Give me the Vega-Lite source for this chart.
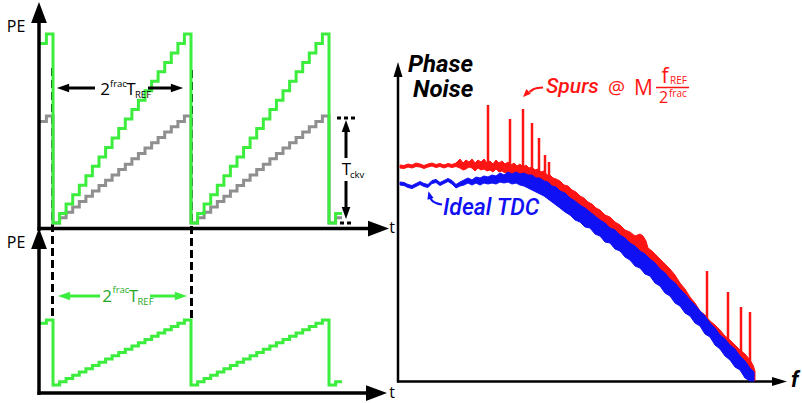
{
  "$schema": "https://vega.github.io/schema/vega-lite/v6.json",
  "width": 802,
  "height": 403,
  "autosize": {"type": "fit", "contains": "padding"},
  "padding": 0,
  "background": "white",
  "config": {"view": {"stroke": null}},
  "datasets": {
    "steps": [
      {"s": "top", "x": 39, "y": 43.5}, {"s": "top", "x": 46.4, "y": 34},
      {"s": "top", "x": 53, "y": 223}, {"s": "top", "x": 59.6, "y": 213.6}, {"s": "top", "x": 66.1, "y": 204.1}, {"s": "top", "x": 72.7, "y": 194.7}, {"s": "top", "x": 79.3, "y": 185.2}, {"s": "top", "x": 85.9, "y": 175.8}, {"s": "top", "x": 92.4, "y": 166.3}, {"s": "top", "x": 99, "y": 156.9}, {"s": "top", "x": 105.6, "y": 147.4}, {"s": "top", "x": 112.1, "y": 138}, {"s": "top", "x": 118.7, "y": 128.5}, {"s": "top", "x": 125.3, "y": 119.1}, {"s": "top", "x": 131.9, "y": 109.6}, {"s": "top", "x": 138.4, "y": 100.2}, {"s": "top", "x": 145, "y": 90.7}, {"s": "top", "x": 151.6, "y": 81.3}, {"s": "top", "x": 158.1, "y": 71.8}, {"s": "top", "x": 164.7, "y": 62.4}, {"s": "top", "x": 171.3, "y": 52.9}, {"s": "top", "x": 177.9, "y": 43.5}, {"s": "top", "x": 184.4, "y": 34},
      {"s": "top", "x": 191, "y": 223}, {"s": "top", "x": 197.6, "y": 213.6}, {"s": "top", "x": 204.1, "y": 204.1}, {"s": "top", "x": 210.7, "y": 194.7}, {"s": "top", "x": 217.3, "y": 185.2}, {"s": "top", "x": 223.9, "y": 175.8}, {"s": "top", "x": 230.4, "y": 166.3}, {"s": "top", "x": 237, "y": 156.9}, {"s": "top", "x": 243.6, "y": 147.4}, {"s": "top", "x": 250.1, "y": 138}, {"s": "top", "x": 256.7, "y": 128.5}, {"s": "top", "x": 263.3, "y": 119.1}, {"s": "top", "x": 269.9, "y": 109.6}, {"s": "top", "x": 276.4, "y": 100.2}, {"s": "top", "x": 283, "y": 90.7}, {"s": "top", "x": 289.6, "y": 81.3}, {"s": "top", "x": 296.1, "y": 71.8}, {"s": "top", "x": 302.7, "y": 62.4}, {"s": "top", "x": 309.3, "y": 52.9}, {"s": "top", "x": 315.9, "y": 43.5}, {"s": "top", "x": 322.4, "y": 34},
      {"s": "top", "x": 329, "y": 223}, {"s": "top", "x": 335.6, "y": 213.6}, {"s": "top", "x": 342, "y": 213.6},
      {"s": "gray", "x": 39, "y": 121.4}, {"s": "gray", "x": 46.4, "y": 116},
      {"s": "gray", "x": 53, "y": 223}, {"s": "gray", "x": 59.6, "y": 217.7}, {"s": "gray", "x": 66.1, "y": 212.3}, {"s": "gray", "x": 72.7, "y": 207}, {"s": "gray", "x": 79.3, "y": 201.6}, {"s": "gray", "x": 85.9, "y": 196.3}, {"s": "gray", "x": 92.4, "y": 190.9}, {"s": "gray", "x": 99, "y": 185.6}, {"s": "gray", "x": 105.6, "y": 180.2}, {"s": "gray", "x": 112.1, "y": 174.9}, {"s": "gray", "x": 118.7, "y": 169.5}, {"s": "gray", "x": 125.3, "y": 164.2}, {"s": "gray", "x": 131.9, "y": 158.8}, {"s": "gray", "x": 138.4, "y": 153.5}, {"s": "gray", "x": 145, "y": 148.1}, {"s": "gray", "x": 151.6, "y": 142.8}, {"s": "gray", "x": 158.1, "y": 137.4}, {"s": "gray", "x": 164.7, "y": 132.1}, {"s": "gray", "x": 171.3, "y": 126.7}, {"s": "gray", "x": 177.9, "y": 121.4}, {"s": "gray", "x": 184.4, "y": 116},
      {"s": "gray", "x": 191, "y": 223}, {"s": "gray", "x": 197.6, "y": 217.7}, {"s": "gray", "x": 204.1, "y": 212.3}, {"s": "gray", "x": 210.7, "y": 207}, {"s": "gray", "x": 217.3, "y": 201.6}, {"s": "gray", "x": 223.9, "y": 196.3}, {"s": "gray", "x": 230.4, "y": 190.9}, {"s": "gray", "x": 237, "y": 185.6}, {"s": "gray", "x": 243.6, "y": 180.2}, {"s": "gray", "x": 250.1, "y": 174.9}, {"s": "gray", "x": 256.7, "y": 169.5}, {"s": "gray", "x": 263.3, "y": 164.2}, {"s": "gray", "x": 269.9, "y": 158.8}, {"s": "gray", "x": 276.4, "y": 153.5}, {"s": "gray", "x": 283, "y": 148.1}, {"s": "gray", "x": 289.6, "y": 142.8}, {"s": "gray", "x": 296.1, "y": 137.4}, {"s": "gray", "x": 302.7, "y": 132.1}, {"s": "gray", "x": 309.3, "y": 126.7}, {"s": "gray", "x": 315.9, "y": 121.4}, {"s": "gray", "x": 322.4, "y": 116},
      {"s": "gray", "x": 329, "y": 223}, {"s": "gray", "x": 335.6, "y": 217.7}, {"s": "gray", "x": 342, "y": 217.7},
      {"s": "bot", "x": 39, "y": 323.3}, {"s": "bot", "x": 46.4, "y": 320},
      {"s": "bot", "x": 53, "y": 385}, {"s": "bot", "x": 59.6, "y": 381.8}, {"s": "bot", "x": 66.1, "y": 378.5}, {"s": "bot", "x": 72.7, "y": 375.3}, {"s": "bot", "x": 79.3, "y": 372}, {"s": "bot", "x": 85.9, "y": 368.8}, {"s": "bot", "x": 92.4, "y": 365.5}, {"s": "bot", "x": 99, "y": 362.3}, {"s": "bot", "x": 105.6, "y": 359}, {"s": "bot", "x": 112.1, "y": 355.8}, {"s": "bot", "x": 118.7, "y": 352.5}, {"s": "bot", "x": 125.3, "y": 349.3}, {"s": "bot", "x": 131.9, "y": 346}, {"s": "bot", "x": 138.4, "y": 342.8}, {"s": "bot", "x": 145, "y": 339.5}, {"s": "bot", "x": 151.6, "y": 336.3}, {"s": "bot", "x": 158.1, "y": 333}, {"s": "bot", "x": 164.7, "y": 329.8}, {"s": "bot", "x": 171.3, "y": 326.5}, {"s": "bot", "x": 177.9, "y": 323.3}, {"s": "bot", "x": 184.4, "y": 320},
      {"s": "bot", "x": 191, "y": 385}, {"s": "bot", "x": 197.6, "y": 381.8}, {"s": "bot", "x": 204.1, "y": 378.5}, {"s": "bot", "x": 210.7, "y": 375.3}, {"s": "bot", "x": 217.3, "y": 372}, {"s": "bot", "x": 223.9, "y": 368.8}, {"s": "bot", "x": 230.4, "y": 365.5}, {"s": "bot", "x": 237, "y": 362.3}, {"s": "bot", "x": 243.6, "y": 359}, {"s": "bot", "x": 250.1, "y": 355.8}, {"s": "bot", "x": 256.7, "y": 352.5}, {"s": "bot", "x": 263.3, "y": 349.3}, {"s": "bot", "x": 269.9, "y": 346}, {"s": "bot", "x": 276.4, "y": 342.8}, {"s": "bot", "x": 283, "y": 339.5}, {"s": "bot", "x": 289.6, "y": 336.3}, {"s": "bot", "x": 296.1, "y": 333}, {"s": "bot", "x": 302.7, "y": 329.8}, {"s": "bot", "x": 309.3, "y": 326.5}, {"s": "bot", "x": 315.9, "y": 323.3}, {"s": "bot", "x": 322.4, "y": 320},
      {"s": "bot", "x": 329, "y": 385}, {"s": "bot", "x": 335.6, "y": 381.8}, {"s": "bot", "x": 342, "y": 381.8}
    ],
    "segs": [
      {"k": "axisL", "x": 39, "y": 231, "x2": 39, "y2": 20},
      {"k": "axisL", "x": 37.5, "y": 228.5, "x2": 370, "y2": 228.5},
      {"k": "axisL", "x": 39, "y": 395, "x2": 39, "y2": 248},
      {"k": "axisL", "x": 37.5, "y": 393, "x2": 368, "y2": 393},
      {"k": "axisR", "x": 398, "y": 382.5, "x2": 398, "y2": 74},
      {"k": "axisR", "x": 397, "y": 381.5, "x2": 773, "y2": 381.5},
      {"k": "ann", "x": 67, "y": 88, "x2": 95, "y2": 88},
      {"k": "ann", "x": 148, "y": 88, "x2": 173, "y2": 88},
      {"k": "ann", "x": 346, "y": 130, "x2": 346, "y2": 158},
      {"k": "ann", "x": 346, "y": 181, "x2": 346, "y2": 209},
      {"k": "annG", "x": 70, "y": 296, "x2": 100, "y2": 296},
      {"k": "annG", "x": 150, "y": 296, "x2": 175, "y2": 296},
      {"k": "dots", "x": 337, "y": 118, "x2": 356, "y2": 118},
      {"k": "dots", "x": 340, "y": 223, "x2": 352, "y2": 223},
      {"k": "dash", "x": 52.5, "y": 68, "x2": 52.5, "y2": 321},
      {"k": "dash", "x": 191.5, "y": 70, "x2": 191.5, "y2": 320},
      {"k": "bar", "x": 656, "y": 87.5, "x2": 689, "y2": 87.5},
      {"k": "spur", "x": 488, "y": 105, "x2": 488, "y2": 166},
      {"k": "spur", "x": 510, "y": 119, "x2": 510, "y2": 167},
      {"k": "spur", "x": 523, "y": 109, "x2": 523, "y2": 168},
      {"k": "spur", "x": 532, "y": 123, "x2": 532, "y2": 170},
      {"k": "spur", "x": 539, "y": 138, "x2": 539, "y2": 172},
      {"k": "spur", "x": 545, "y": 155, "x2": 545, "y2": 175},
      {"k": "spur", "x": 549, "y": 162, "x2": 549, "y2": 178},
      {"k": "spur", "x": 707, "y": 271, "x2": 707, "y2": 325},
      {"k": "spur", "x": 728, "y": 292, "x2": 728, "y2": 342},
      {"k": "spur", "x": 741, "y": 307, "x2": 741, "y2": 352},
      {"k": "spur", "x": 750, "y": 312, "x2": 750, "y2": 364}
    ],
    "heads": [
      {"k": "big", "x": 39, "y": 12.5, "deg": 0},
      {"k": "big", "x": 378.5, "y": 228.5, "deg": 90},
      {"k": "big", "x": 39, "y": 238.5, "deg": 0},
      {"k": "big", "x": 376.5, "y": 393, "deg": 90},
      {"k": "rax", "x": 398, "y": 69.5, "deg": 0},
      {"k": "rax", "x": 779.5, "y": 381.5, "deg": 90},
      {"k": "annB", "x": 63, "y": 88, "deg": 270},
      {"k": "annB", "x": 177, "y": 88, "deg": 90},
      {"k": "annB", "x": 346, "y": 126, "deg": 0},
      {"k": "annB", "x": 346, "y": 213, "deg": 180},
      {"k": "annG", "x": 64, "y": 296, "deg": 270},
      {"k": "annG", "x": 181, "y": 296, "deg": 90},
      {"k": "red", "x": 525.8, "y": 94.2, "deg": 225},
      {"k": "blue", "x": 429.5, "y": 195, "deg": 345}
    ],
    "hooks": [
      {"c": "red", "x": 529.5, "y": 92}, {"c": "red", "x": 533, "y": 89.5}, {"c": "red", "x": 538, "y": 88}, {"c": "red", "x": 543, "y": 87.5},
      {"c": "blue", "x": 430, "y": 197.5}, {"c": "blue", "x": 432, "y": 200.5}, {"c": "blue", "x": 436, "y": 203}, {"c": "blue", "x": 442, "y": 204.5}
    ],
    "red": [
      {"x": 400, "y": 165, "y2": 168}, {"x": 404, "y": 165.5, "y2": 168.5}, {"x": 408, "y": 164, "y2": 167}, {"x": 412, "y": 165, "y2": 168}, {"x": 416, "y": 163, "y2": 166.5}, {"x": 420, "y": 164, "y2": 167}, {"x": 424, "y": 165.5, "y2": 168.5}, {"x": 428, "y": 164, "y2": 167}, {"x": 432, "y": 163, "y2": 166}, {"x": 436, "y": 164.5, "y2": 167.5}, {"x": 440, "y": 163.5, "y2": 166.5}, {"x": 444, "y": 165, "y2": 168}, {"x": 448, "y": 163.5, "y2": 166.5}, {"x": 452, "y": 164.5, "y2": 167.5}, {"x": 456, "y": 163, "y2": 166.5},
      {"x": 460, "y": 159, "y2": 168}, {"x": 463, "y": 163, "y2": 170}, {"x": 466, "y": 160, "y2": 169}, {"x": 469, "y": 162, "y2": 167}, {"x": 472, "y": 159, "y2": 168}, {"x": 475, "y": 163, "y2": 171}, {"x": 478, "y": 160, "y2": 168}, {"x": 481, "y": 162, "y2": 170}, {"x": 484, "y": 159, "y2": 169}, {"x": 487, "y": 163, "y2": 171}, {"x": 490, "y": 161, "y2": 170}, {"x": 493, "y": 164, "y2": 172}, {"x": 496, "y": 160, "y2": 169}, {"x": 499, "y": 163, "y2": 172}, {"x": 502, "y": 161, "y2": 171}, {"x": 505, "y": 164, "y2": 173}, {"x": 508, "y": 162, "y2": 172}, {"x": 511, "y": 165, "y2": 174}, {"x": 514, "y": 163, "y2": 175}, {"x": 517, "y": 166, "y2": 176}, {"x": 520, "y": 164, "y2": 177}, {"x": 523, "y": 167, "y2": 178}, {"x": 526, "y": 165, "y2": 179}, {"x": 529, "y": 168, "y2": 181}, {"x": 532, "y": 167, "y2": 182}, {"x": 535, "y": 170, "y2": 184}, {"x": 538, "y": 169, "y2": 186}, {"x": 541, "y": 172, "y2": 188}, {"x": 544, "y": 171, "y2": 189}, {"x": 547, "y": 175, "y2": 191}, {"x": 550, "y": 175, "y2": 193}, {"x": 553, "y": 178, "y2": 195}, {"x": 556, "y": 179, "y2": 197},
      {"x": 560, "y": 181, "y2": 199}, {"x": 564, "y": 185, "y2": 202}, {"x": 568, "y": 186, "y2": 205}, {"x": 572, "y": 190, "y2": 208}, {"x": 576, "y": 192, "y2": 211}, {"x": 580, "y": 196, "y2": 214}, {"x": 584, "y": 198, "y2": 217}, {"x": 588, "y": 202, "y2": 220}, {"x": 592, "y": 204, "y2": 223}, {"x": 596, "y": 208, "y2": 226}, {"x": 600, "y": 210, "y2": 229}, {"x": 605, "y": 215, "y2": 233}, {"x": 610, "y": 217, "y2": 237}, {"x": 615, "y": 222, "y2": 241}, {"x": 620, "y": 225, "y2": 245}, {"x": 625, "y": 230, "y2": 249}, {"x": 630, "y": 232, "y2": 253}, {"x": 635, "y": 236, "y2": 257}, {"x": 640, "y": 234, "y2": 261}, {"x": 643, "y": 236, "y2": 263}, {"x": 646, "y": 241, "y2": 265}, {"x": 648, "y": 248, "y2": 268}, {"x": 652, "y": 251, "y2": 272}, {"x": 656, "y": 255, "y2": 276}, {"x": 660, "y": 259, "y2": 280}, {"x": 665, "y": 264, "y2": 285}, {"x": 670, "y": 269, "y2": 290}, {"x": 675, "y": 275, "y2": 295}, {"x": 680, "y": 283, "y2": 300}, {"x": 685, "y": 289, "y2": 306}, {"x": 690, "y": 297, "y2": 311}, {"x": 695, "y": 303, "y2": 317},
      {"x": 700, "y": 311, "y2": 323}, {"x": 705, "y": 315, "y2": 328}, {"x": 710, "y": 321, "y2": 333}, {"x": 715, "y": 325, "y2": 338}, {"x": 720, "y": 330, "y2": 343}, {"x": 725, "y": 336, "y2": 348}, {"x": 730, "y": 340, "y2": 353}, {"x": 735, "y": 345, "y2": 358}, {"x": 740, "y": 350, "y2": 364}, {"x": 745, "y": 354, "y2": 370}, {"x": 750, "y": 360, "y2": 376}, {"x": 753, "y": 365, "y2": 380}, {"x": 755, "y": 371, "y2": 381}
    ],
    "blue": [
      {"x": 400, "y": 182, "y2": 185}, {"x": 404, "y": 182.5, "y2": 185.5}, {"x": 408, "y": 184.5, "y2": 187.5}, {"x": 412, "y": 185.5, "y2": 188.5}, {"x": 416, "y": 183.5, "y2": 186.5}, {"x": 420, "y": 181.5, "y2": 184.5}, {"x": 424, "y": 183.5, "y2": 186.5}, {"x": 428, "y": 184.5, "y2": 187.5}, {"x": 432, "y": 180.5, "y2": 183.5}, {"x": 436, "y": 179.5, "y2": 182.5}, {"x": 440, "y": 182.5, "y2": 185.5}, {"x": 444, "y": 180.5, "y2": 183.5}, {"x": 448, "y": 178.5, "y2": 181.5}, {"x": 452, "y": 180.5, "y2": 184}, {"x": 456, "y": 184.5, "y2": 188}, {"x": 460, "y": 182, "y2": 186},
      {"x": 464, "y": 180, "y2": 185}, {"x": 468, "y": 178, "y2": 183}, {"x": 472, "y": 180, "y2": 185}, {"x": 476, "y": 177, "y2": 183}, {"x": 480, "y": 178, "y2": 185}, {"x": 484, "y": 176, "y2": 183}, {"x": 488, "y": 177, "y2": 184}, {"x": 492, "y": 175, "y2": 183}, {"x": 496, "y": 176, "y2": 184}, {"x": 500, "y": 173, "y2": 182}, {"x": 504, "y": 175, "y2": 183}, {"x": 508, "y": 172, "y2": 182}, {"x": 512, "y": 174, "y2": 184}, {"x": 516, "y": 172, "y2": 183}, {"x": 520, "y": 174, "y2": 185}, {"x": 524, "y": 173, "y2": 186}, {"x": 528, "y": 175, "y2": 188}, {"x": 532, "y": 175, "y2": 190}, {"x": 536, "y": 178, "y2": 192}, {"x": 540, "y": 178, "y2": 194}, {"x": 544, "y": 181, "y2": 196}, {"x": 548, "y": 182, "y2": 199}, {"x": 552, "y": 186, "y2": 202}, {"x": 556, "y": 187, "y2": 205},
      {"x": 560, "y": 191, "y2": 208}, {"x": 565, "y": 193, "y2": 212}, {"x": 570, "y": 198, "y2": 215}, {"x": 575, "y": 201, "y2": 220}, {"x": 580, "y": 205, "y2": 222}, {"x": 585, "y": 208, "y2": 227}, {"x": 590, "y": 212, "y2": 228}, {"x": 595, "y": 216, "y2": 234}, {"x": 600, "y": 220, "y2": 236}, {"x": 605, "y": 223, "y2": 242}, {"x": 610, "y": 228, "y2": 243}, {"x": 615, "y": 230, "y2": 249}, {"x": 620, "y": 235, "y2": 251}, {"x": 625, "y": 238, "y2": 257}, {"x": 630, "y": 243, "y2": 260}, {"x": 635, "y": 246, "y2": 266}, {"x": 640, "y": 251, "y2": 268}, {"x": 645, "y": 254, "y2": 274}, {"x": 650, "y": 259, "y2": 276}, {"x": 655, "y": 263, "y2": 283}, {"x": 660, "y": 269, "y2": 286}, {"x": 665, "y": 273, "y2": 293}, {"x": 670, "y": 279, "y2": 296}, {"x": 675, "y": 283, "y2": 303}, {"x": 680, "y": 289, "y2": 306}, {"x": 685, "y": 294, "y2": 313}, {"x": 690, "y": 300, "y2": 316}, {"x": 695, "y": 305, "y2": 323},
      {"x": 700, "y": 311, "y2": 326}, {"x": 705, "y": 316, "y2": 334}, {"x": 710, "y": 323, "y2": 337}, {"x": 715, "y": 328, "y2": 345}, {"x": 720, "y": 335, "y2": 349}, {"x": 725, "y": 339, "y2": 356}, {"x": 730, "y": 345, "y2": 360}, {"x": 735, "y": 349, "y2": 367}, {"x": 740, "y": 356, "y2": 370}, {"x": 745, "y": 361, "y2": 378}, {"x": 750, "y": 368, "y2": 381}, {"x": 754, "y": 372, "y2": 381}
    ],
    "texts": [
      {"r": "pe", "t": "PE", "x": 16, "y": 32},
      {"r": "pe", "t": "PE", "x": 16, "y": 248},
      {"r": "pe", "t": "t", "x": 392, "y": 233},
      {"r": "pe", "t": "t", "x": 392, "y": 398},
      {"r": "bigK", "t": "2", "x": 105, "y": 95},
      {"r": "bigK", "t": "T", "x": 131, "y": 95},
      {"r": "bigK", "t": "T", "x": 346.5, "y": 175},
      {"r": "smK", "t": "frac", "x": 110, "y": 86.5},
      {"r": "smK", "t": "REF", "x": 135, "y": 97.5},
      {"r": "smK", "t": "ckv", "x": 350, "y": 177.5},
      {"r": "bigG", "t": "2", "x": 107, "y": 302},
      {"r": "bigG", "t": "T", "x": 133.5, "y": 302},
      {"r": "smG", "t": "frac", "x": 112.5, "y": 293},
      {"r": "smG", "t": "REF", "x": 137.5, "y": 305},
      {"r": "head", "t": "Phase", "x": 408, "y": 72},
      {"r": "head", "t": "Noise", "x": 413, "y": 97},
      {"r": "f", "t": "f", "x": 791, "y": 387},
      {"r": "spurs", "t": "Spurs", "x": 546, "y": 93},
      {"r": "redL", "t": "M", "x": 643.5, "y": 95},
      {"r": "redL", "t": "f", "x": 665, "y": 83},
      {"r": "redA", "t": "@", "x": 616.5, "y": 94},
      {"r": "redM", "t": "2", "x": 663.5, "y": 103},
      {"r": "redS", "t": "REF", "x": 670, "y": 84},
      {"r": "redS", "t": "frac", "x": 669, "y": 97},
      {"r": "ideal", "t": "Ideal TDC", "x": 443, "y": 215}
    ]
  },
  "encoding": {
    "x": {"field": "x", "type": "quantitative", "scale": {"domain": [0, 802], "nice": false, "zero": false}, "axis": null},
    "y": {"field": "y", "type": "quantitative", "scale": {"domain": [0, 403], "nice": false, "zero": false, "reverse": true}, "axis": null}
  },
  "layer": [
    {
      "data": {"name": "segs"},
      "transform": [{"filter": "datum.k === 'dash'"}],
      "mark": {"type": "rule", "color": "black", "strokeWidth": 3, "strokeDash": [8, 4]},
      "encoding": {"x2": {"field": "x2"}, "y2": {"field": "y2"}}
    },
    {
      "data": {"name": "steps"},
      "transform": [{"filter": "datum.s === 'gray'"}],
      "mark": {"type": "line", "interpolate": "step-after", "color": "#8f8f8f", "strokeWidth": 3},
      "encoding": {}
    },
    {
      "data": {"name": "steps"},
      "transform": [{"filter": "datum.s !== 'gray'"}],
      "mark": {"type": "line", "interpolate": "step-after", "color": "#3ded3d", "strokeWidth": 3},
      "encoding": {"detail": {"field": "s"}}
    },
    {
      "data": {"name": "segs"},
      "transform": [{"filter": "datum.k === 'axisL'"}],
      "mark": {"type": "rule", "color": "black", "strokeWidth": 3.5},
      "encoding": {"x2": {"field": "x2"}, "y2": {"field": "y2"}}
    },
    {
      "data": {"name": "segs"},
      "transform": [{"filter": "datum.k === 'axisR'"}],
      "mark": {"type": "rule", "color": "black", "strokeWidth": 2.5},
      "encoding": {"x2": {"field": "x2"}, "y2": {"field": "y2"}}
    },
    {
      "data": {"name": "segs"},
      "transform": [{"filter": "datum.k === 'ann'"}],
      "mark": {"type": "rule", "color": "black", "strokeWidth": 3},
      "encoding": {"x2": {"field": "x2"}, "y2": {"field": "y2"}}
    },
    {
      "data": {"name": "segs"},
      "transform": [{"filter": "datum.k === 'annG'"}],
      "mark": {"type": "rule", "color": "#3ded3d", "strokeWidth": 3},
      "encoding": {"x2": {"field": "x2"}, "y2": {"field": "y2"}}
    },
    {
      "data": {"name": "segs"},
      "transform": [{"filter": "datum.k === 'dots'"}],
      "mark": {"type": "rule", "color": "black", "strokeWidth": 3, "strokeDash": [4, 3]},
      "encoding": {"x2": {"field": "x2"}, "y2": {"field": "y2"}}
    },
    {
      "data": {"name": "heads"},
      "transform": [{"filter": "datum.k === 'big'"}],
      "mark": {"type": "point", "shape": "M0,-1L0.75,1L-0.75,1Z", "filled": true, "color": "black", "opacity": 1, "size": 441, "strokeWidth": 0},
      "encoding": {"angle": {"field": "deg", "type": "quantitative", "scale": null}}
    },
    {
      "data": {"name": "heads"},
      "transform": [{"filter": "datum.k === 'rax'"}],
      "mark": {"type": "point", "shape": "M0,-1L0.6,1L-0.6,1Z", "filled": true, "color": "black", "opacity": 1, "size": 225, "strokeWidth": 0},
      "encoding": {"angle": {"field": "deg", "type": "quantitative", "scale": null}}
    },
    {
      "data": {"name": "heads"},
      "transform": [{"filter": "datum.k === 'annB'"}],
      "mark": {"type": "point", "shape": "M0,-1L0.7,1L-0.7,1Z", "filled": true, "color": "black", "opacity": 1, "size": 150, "strokeWidth": 0},
      "encoding": {"angle": {"field": "deg", "type": "quantitative", "scale": null}}
    },
    {
      "data": {"name": "heads"},
      "transform": [{"filter": "datum.k === 'annG'"}],
      "mark": {"type": "point", "shape": "M0,-1L0.7,1L-0.7,1Z", "filled": true, "color": "#3ded3d", "opacity": 1, "size": 150, "strokeWidth": 0},
      "encoding": {"angle": {"field": "deg", "type": "quantitative", "scale": null}}
    },
    {
      "data": {"name": "texts"},
      "transform": [{"filter": "datum.r === 'pe'"}],
      "mark": {"type": "text", "font": "Open Sans", "fontSize": 16, "align": "center", "baseline": "alphabetic", "color": "black"},
      "encoding": {"text": {"field": "t"}}
    },
    {
      "data": {"name": "texts"},
      "transform": [{"filter": "datum.r === 'bigK'"}],
      "mark": {"type": "text", "font": "Open Sans", "fontSize": 17, "align": "center", "baseline": "alphabetic", "color": "black"},
      "encoding": {"text": {"field": "t"}}
    },
    {
      "data": {"name": "texts"},
      "transform": [{"filter": "datum.r === 'smK'"}],
      "mark": {"type": "text", "font": "Open Sans", "fontSize": 9.5, "align": "left", "baseline": "alphabetic", "color": "black"},
      "encoding": {"text": {"field": "t"}}
    },
    {
      "data": {"name": "texts"},
      "transform": [{"filter": "datum.r === 'bigG'"}],
      "mark": {"type": "text", "font": "Open Sans", "fontSize": 17, "align": "center", "baseline": "alphabetic", "color": "#26a826"},
      "encoding": {"text": {"field": "t"}}
    },
    {
      "data": {"name": "texts"},
      "transform": [{"filter": "datum.r === 'smG'"}],
      "mark": {"type": "text", "font": "Open Sans", "fontSize": 9.5, "align": "left", "baseline": "alphabetic", "color": "#26a826"},
      "encoding": {"text": {"field": "t"}}
    },
    {
      "data": {"name": "red"},
      "mark": {"type": "area", "fill": "#ff1414", "stroke": "#ff1414", "strokeWidth": 1, "opacity": 1},
      "encoding": {"y2": {"field": "y2"}}
    },
    {
      "data": {"name": "segs"},
      "transform": [{"filter": "datum.k === 'spur'"}],
      "mark": {"type": "rule", "color": "#ff1414", "strokeWidth": 2.5},
      "encoding": {"x2": {"field": "x2"}, "y2": {"field": "y2"}}
    },
    {
      "data": {"name": "blue"},
      "mark": {"type": "area", "fill": "#1010f5", "stroke": "#1010f5", "strokeWidth": 1, "opacity": 1},
      "encoding": {"y2": {"field": "y2"}}
    },
    {
      "data": {"name": "hooks"},
      "transform": [{"filter": "datum.c === 'red'"}],
      "mark": {"type": "line", "interpolate": "monotone", "color": "#ff1414", "strokeWidth": 2},
      "encoding": {}
    },
    {
      "data": {"name": "hooks"},
      "transform": [{"filter": "datum.c === 'blue'"}],
      "mark": {"type": "line", "interpolate": "monotone", "color": "#1010f5", "strokeWidth": 2},
      "encoding": {}
    },
    {
      "data": {"name": "heads"},
      "transform": [{"filter": "datum.k === 'red'"}],
      "mark": {"type": "point", "shape": "M0,-1L0.8,1L-0.8,1Z", "filled": true, "color": "#ff1414", "opacity": 1, "size": 64, "strokeWidth": 0},
      "encoding": {"angle": {"field": "deg", "type": "quantitative", "scale": null}}
    },
    {
      "data": {"name": "heads"},
      "transform": [{"filter": "datum.k === 'blue'"}],
      "mark": {"type": "point", "shape": "M0,-1L0.8,1L-0.8,1Z", "filled": true, "color": "#1010f5", "opacity": 1, "size": 64, "strokeWidth": 0},
      "encoding": {"angle": {"field": "deg", "type": "quantitative", "scale": null}}
    },
    {
      "data": {"name": "segs"},
      "transform": [{"filter": "datum.k === 'bar'"}],
      "mark": {"type": "rule", "color": "#ff1414", "strokeWidth": 1.5},
      "encoding": {"x2": {"field": "x2"}, "y2": {"field": "y2"}}
    },
    {
      "data": {"name": "texts"},
      "transform": [{"filter": "datum.r === 'head'"}],
      "mark": {"type": "text", "font": "Roboto", "fontSize": 24, "fontStyle": "italic", "fontWeight": "bold", "align": "left", "baseline": "alphabetic", "color": "black"},
      "encoding": {"text": {"field": "t"}}
    },
    {
      "data": {"name": "texts"},
      "transform": [{"filter": "datum.r === 'f'"}],
      "mark": {"type": "text", "font": "Roboto", "fontSize": 22, "fontStyle": "italic", "fontWeight": "bold", "align": "left", "baseline": "alphabetic", "color": "black"},
      "encoding": {"text": {"field": "t"}}
    },
    {
      "data": {"name": "texts"},
      "transform": [{"filter": "datum.r === 'spurs'"}],
      "mark": {"type": "text", "font": "Roboto", "fontSize": 21, "fontStyle": "italic", "fontWeight": 500, "align": "left", "baseline": "alphabetic", "color": "#ff1414"},
      "encoding": {"text": {"field": "t"}}
    },
    {
      "data": {"name": "texts"},
      "transform": [{"filter": "datum.r === 'redL'"}],
      "mark": {"type": "text", "font": "Open Sans", "fontSize": 21, "align": "center", "baseline": "alphabetic", "color": "#ff1414"},
      "encoding": {"text": {"field": "t"}}
    },
    {
      "data": {"name": "texts"},
      "transform": [{"filter": "datum.r === 'redA'"}],
      "mark": {"type": "text", "font": "Open Sans", "fontSize": 19, "align": "center", "baseline": "alphabetic", "color": "#ff1414"},
      "encoding": {"text": {"field": "t"}}
    },
    {
      "data": {"name": "texts"},
      "transform": [{"filter": "datum.r === 'redM'"}],
      "mark": {"type": "text", "font": "Open Sans", "fontSize": 16, "align": "center", "baseline": "alphabetic", "color": "#ff1414"},
      "encoding": {"text": {"field": "t"}}
    },
    {
      "data": {"name": "texts"},
      "transform": [{"filter": "datum.r === 'redS'"}],
      "mark": {"type": "text", "font": "Open Sans", "fontSize": 10, "align": "left", "baseline": "alphabetic", "color": "#ff1414"},
      "encoding": {"text": {"field": "t"}}
    },
    {
      "data": {"name": "texts"},
      "transform": [{"filter": "datum.r === 'ideal'"}],
      "mark": {"type": "text", "font": "Roboto", "fontSize": 23, "fontStyle": "italic", "fontWeight": 500, "align": "left", "baseline": "alphabetic", "color": "#1010f5"},
      "encoding": {"text": {"field": "t"}}
    }
  ]
}
